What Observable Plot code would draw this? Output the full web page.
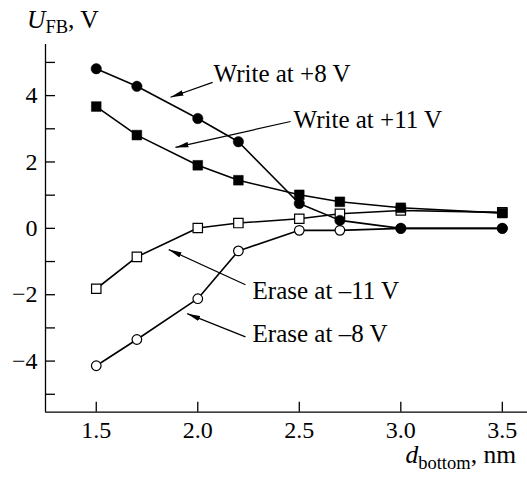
<!DOCTYPE html>
<html><head><meta charset="utf-8">
<script src="https://cdn.jsdelivr.net/npm/d3@7"></script>
<script src="https://cdn.jsdelivr.net/npm/@observablehq/plot@0.6"></script>
<style>html,body{margin:0;padding:0;background:#fff} svg{display:block} svg text{font-family:"Liberation Serif",serif}</style>
</head><body><div id="chart"></div>
<script>
// ---- data ----
const dBottom = [1.5, 1.7, 2.0, 2.2, 2.5, 2.7, 3.0, 3.5];
const write8  = [4.81, 4.28, 3.31, 2.61, 0.75, 0.24, 0.0, 0.0];
const write11 = [3.67, 2.81, 1.90, 1.45, 1.01, 0.80, 0.62, 0.46];
const erase11 = [-1.82, -0.86, 0.01, 0.16, 0.29, 0.44, 0.54, 0.48];
const erase8  = [-4.14, -3.35, -2.12, -0.68, -0.06, -0.06, 0.0, 0.0];
const xTicks = [1.5, 2.0, 2.5, 3.0, 3.5];
const yMajorTicks = [-4, -2, 0, 2, 4];
const yMinorTicks = [-5, -3, -1, 1, 3, 5];
const xDomain = [1.25, 3.624];
const yDomain = [-5.54, 5.54];
const labels = ["Write at +8 V", "Write at +11 V", "Erase at –11 V", "Erase at –8 V"];
const labelX = [2.078, 2.472, 2.27, 2.27];
const labelY = [4.66, 3.28, -1.88, -3.17];
const arrowFromX = [2.073, 2.457, 2.235, 2.235];
const arrowFromY = [4.40, 3.22, -1.70, -3.27];
const arrowToX = [1.866, 1.890, 1.857, 1.948];
const arrowToY = [3.95, 2.44, -0.64, -2.57];

// ---- tables ----
const mk = (vals) => dBottom.map((x, i) => ({x, y: vals[i]}));
const sW8 = mk(write8), sW11 = mk(write11), sE11 = mk(erase11), sE8 = mk(erase8);
const notes = labels.map((t, i) => ({t, x: labelX[i], y: labelY[i]}));
const arrows = labels.map((t, i) => ({x1: arrowFromX[i], y1: arrowFromY[i], x2: arrowToX[i], y2: arrowToY[i]}));

const FONT = "Liberation Serif";
const lineOpts = {x: "x", y: "y", stroke: "black", strokeWidth: 1.6};
const svg = Plot.plot({
  width: 527, height: 477,
  marginLeft: 45, marginRight: 0, marginTop: 44, marginBottom: 65.3,
  style: {fontFamily: FONT, color: "black", background: "white", overflow: "visible"},
  x: {domain: xDomain},
  y: {domain: yDomain},
  marks: [
    Plot.ruleX([xDomain[0]], {stroke: "black", strokeWidth: 1.3}),
    Plot.ruleY([yDomain[0]], {stroke: "black", strokeWidth: 1.3}),
    Plot.axisX(xTicks, {tickSize: 10, dy: -10, tickPadding: 9, tickFormat: d3.format(".1f"), fontSize: 24, fontFamily: FONT, label: null, strokeWidth: 1.3}),
    Plot.axisY(yMajorTicks, {tickSize: 10, dx: 10, tickPadding: 8, fontSize: 24, fontFamily: FONT, label: null, strokeWidth: 1.3}),
    Plot.axisY(yMinorTicks, {tickSize: 10, dx: 10, tickFormat: () => "", label: null, strokeWidth: 1.3}),
    Plot.line(sE8, lineOpts),
    Plot.line(sE11, lineOpts),
    Plot.line(sW11, lineOpts),
    Plot.line(sW8, lineOpts),
    Plot.dot(sE8, {x: "x", y: "y", symbol: "circle", r: 4.8, fill: "white", stroke: "black", strokeWidth: 1.2}),
    Plot.dot(sE11, {x: "x", y: "y", symbol: "square", r: 5.3, fill: "white", stroke: "black", strokeWidth: 1.2}),
    Plot.dot(sW11, {x: "x", y: "y", symbol: "square", r: 5.5, fill: "black", stroke: "black", strokeWidth: 0.5}),
    Plot.dot(sW8, {x: "x", y: "y", symbol: "circle", r: 5.2, fill: "black", stroke: "black", strokeWidth: 0.5}),
    Plot.link(arrows, {x1: "x1", y1: "y1", x2: "x2", y2: "y2", stroke: "black", strokeWidth: 1.2}),
    Plot.text(notes, {x: "x", y: "y", text: "t", textAnchor: "start", lineAnchor: "middle", fontSize: 25, fontFamily: FONT, fill: "black"})
  ]
});

const s = d3.select(svg);
s.selectAll("g, text").attr("font-family", FONT);
const defs = s.insert("defs", ":first-child");
defs.append("marker").attr("id", "ah")
  .attr("viewBox", "0 -3 13 6").attr("markerWidth", 13).attr("markerHeight", 6)
  .attr("markerUnits", "userSpaceOnUse").attr("refX", 13).attr("refY", 0).attr("orient", "auto")
  .append("path").attr("d", "M0,-2.7L13,0L0,2.7Z").attr("fill", "black");
s.selectAll('g[aria-label="link"] path').attr("marker-end", "url(#ah)");

// axis titles with subscripts
const yl = s.append("text").attr("x", 27).attr("y", 28).attr("text-anchor", "start")
  .attr("font-family", FONT).attr("font-size", 25.5).attr("fill", "black");
yl.append("tspan").attr("font-style", "italic").text("U");
yl.append("tspan").attr("font-size", 18.5).attr("dy", 5).text("FB");
yl.append("tspan").attr("dy", -5).text(", V");

const xl = s.append("text").attr("x", 516).attr("y", 463).attr("text-anchor", "end")
  .attr("font-family", FONT).attr("font-size", 25.5).attr("fill", "black");
xl.append("tspan").attr("font-style", "italic").text("d");
xl.append("tspan").attr("font-size", 18.5).attr("dy", 6).text("bottom");
xl.append("tspan").attr("dy", -6).text(", nm");

document.getElementById("chart").appendChild(svg);
</script>
</body></html>
